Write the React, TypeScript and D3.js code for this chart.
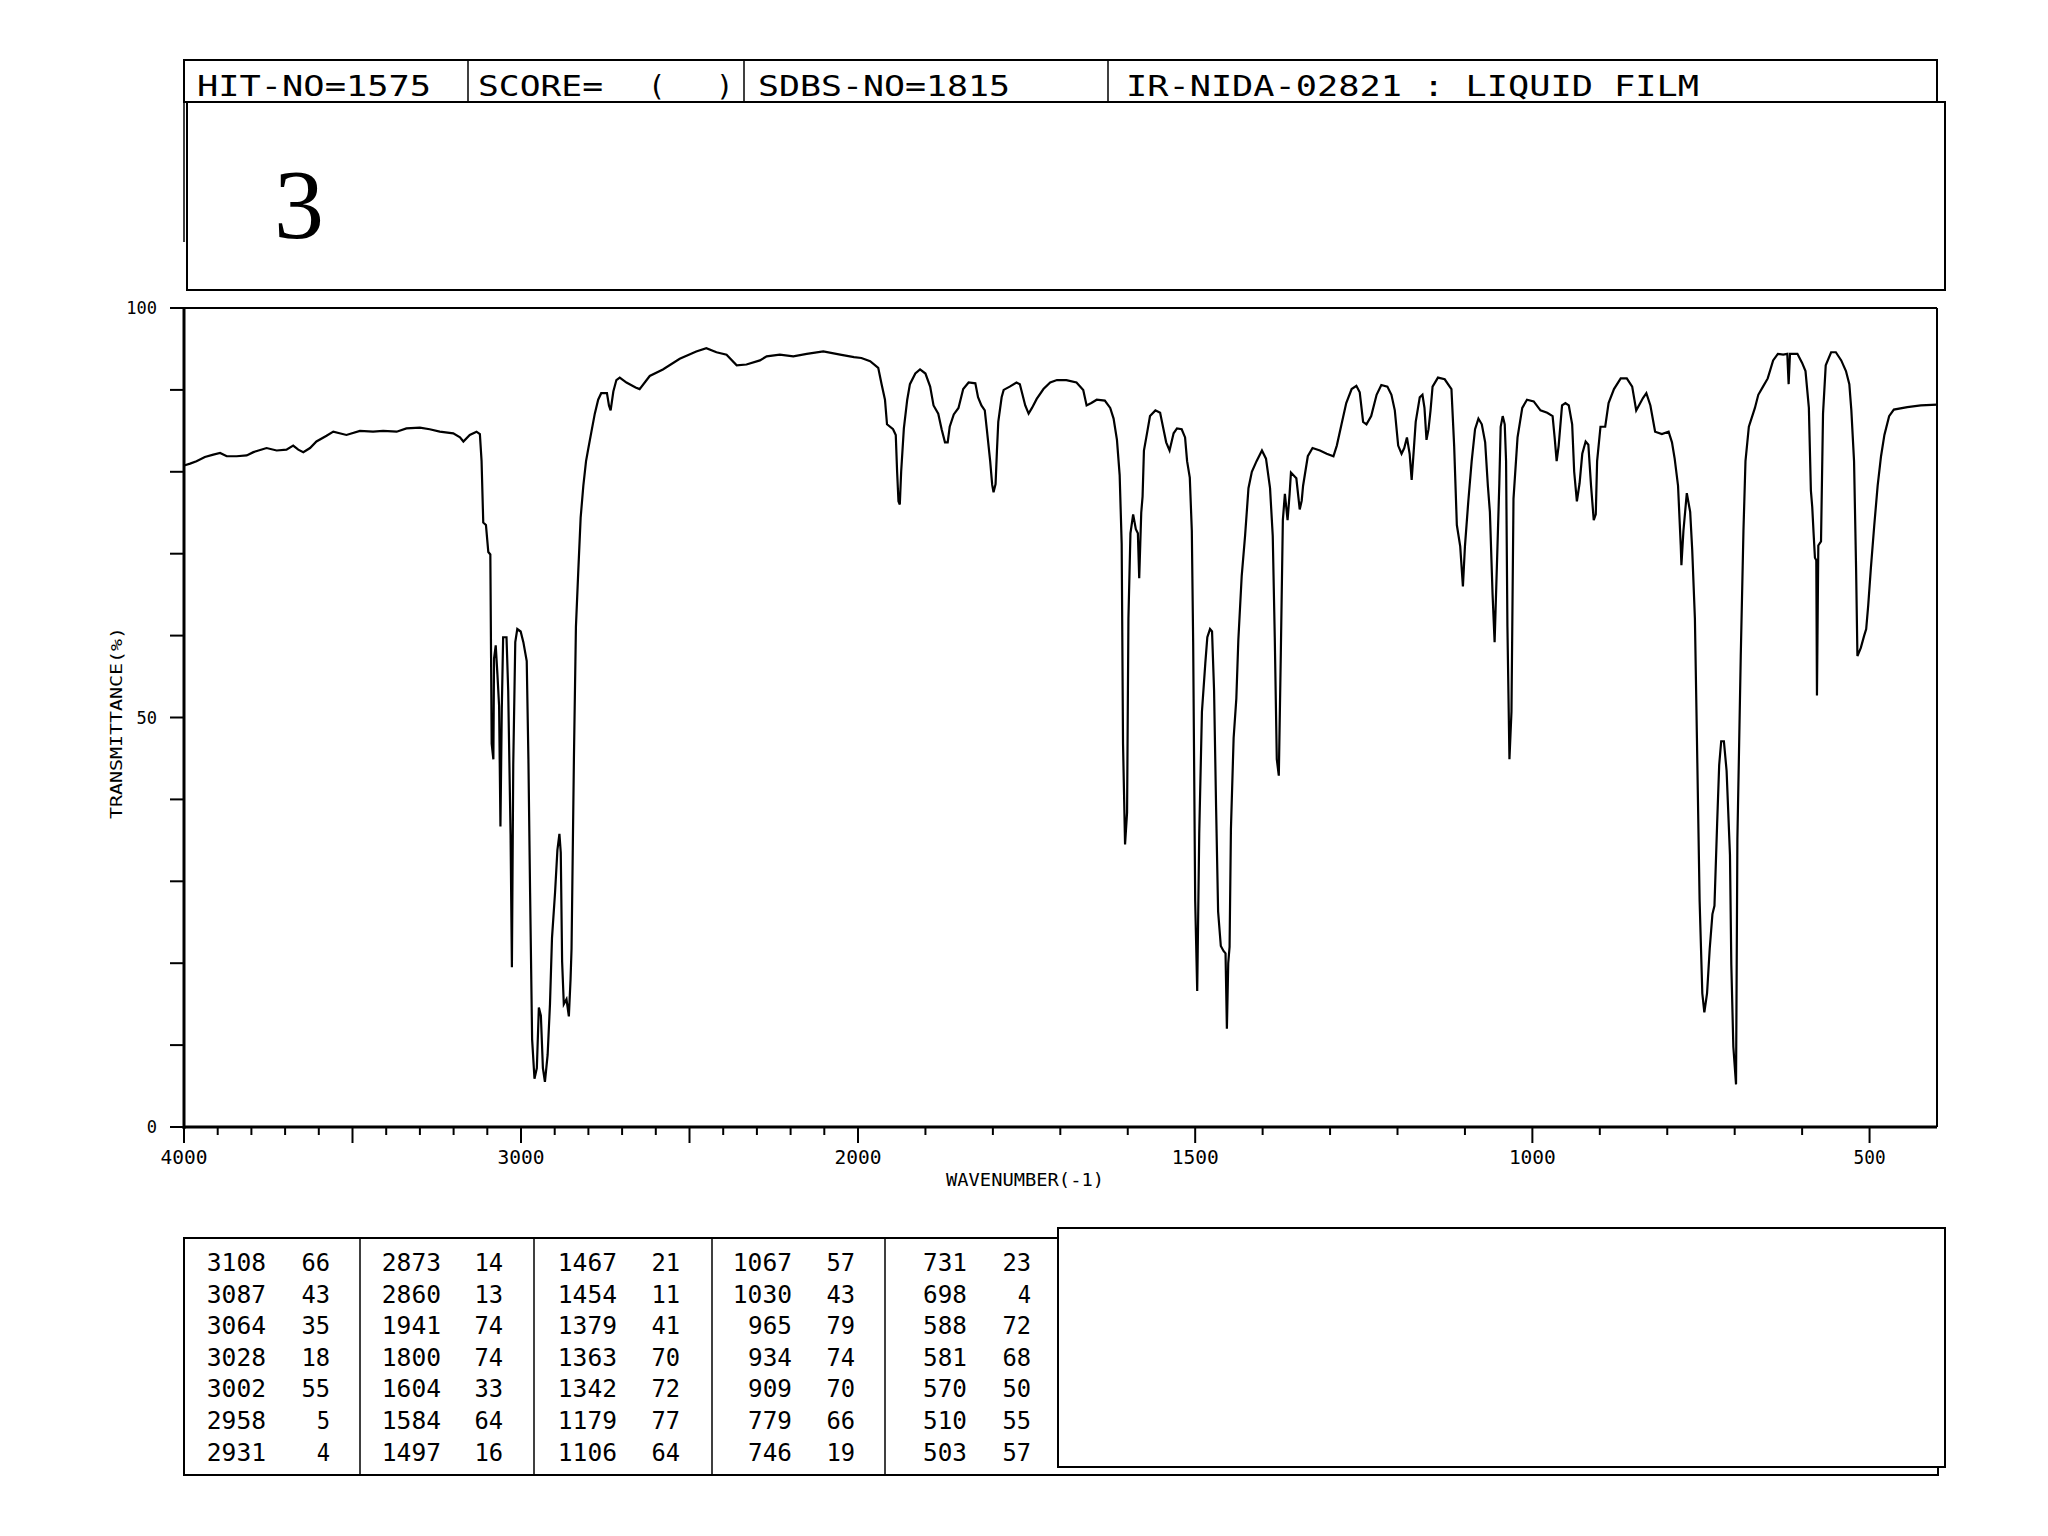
import React from "react";
import * as d3 from "d3";

// ---------- header / meta texts ----------
const headerHit = "HIT-NO=1575";
const headerScore = "SCORE=";
const headerSdbs = "SDBS-NO=1815";
const headerIr = "IR-NIDA-02821 : LIQUID FILM";
const compoundLabel = "3";

// ---------- axis ticks ----------
const yTickLabels = [0, 50, 100];
const xTickLabels = [4000, 3000, 2000, 1500, 1000, 500];
const yTitle = "TRANSMITTANCE(%)";
const xTitle = "WAVENUMBER(-1)";

// ---------- spectrum (wavenumber cm-1, %T) ----------
const spectrumHigh: [number, number][] = [
  [4000, 80.8], [3997, 80.8], [3982, 81.0], [3963, 81.3], [3938, 81.8], [3913, 82.1], [3893, 82.3],
  [3873, 81.9], [3844, 81.9], [3814, 82.0], [3794, 82.4], [3755, 82.9], [3725, 82.6], [3696, 82.7],
  [3676, 83.2], [3661, 82.7], [3646, 82.4], [3626, 82.9], [3607, 83.7], [3577, 84.4], [3557, 84.9],
  [3518, 84.5], [3478, 85.0], [3439, 84.9], [3409, 85.0], [3369, 84.9], [3340, 85.3], [3300, 85.4],
  [3271, 85.2], [3241, 84.9], [3201, 84.7], [3181, 84.2], [3171, 83.7], [3152, 84.5], [3132, 84.9],
  [3122, 84.6], [3117, 81.3], [3112, 73.8], [3104, 73.5], [3097, 70.2], [3091, 69.9], [3087, 46.8],
  [3082, 44.9], [3080, 57.2], [3075, 58.8], [3070, 55.3], [3065, 51.4], [3061, 36.7], [3057, 51.0],
  [3053, 59.8], [3043, 59.8], [3038, 53.3], [3031, 35.8], [3027, 19.5], [3023, 44.2], [3017, 59.2],
  [3011, 60.8], [3001, 60.5], [2993, 59.2], [2983, 56.9], [2978, 44.9], [2973, 28.6], [2967, 10.7],
  [2960, 5.9], [2953, 7.2], [2947, 14.6], [2941, 13.6], [2935, 7.2], [2929, 5.5], [2921, 8.8],
  [2914, 15.0], [2908, 23.1], [2899, 28.6], [2892, 33.8], [2886, 35.8], [2882, 33.5], [2878, 20.2],
  [2873, 15.0], [2865, 15.6], [2858, 13.5], [2853, 18.0], [2850, 21.8], [2846, 35.0], [2843, 44.9],
  [2837, 61.1], [2830, 67.9], [2823, 74.4], [2815, 78.3], [2807, 81.3], [2800, 82.9], [2791, 84.9],
  [2781, 87.1], [2771, 88.8], [2762, 89.6], [2745, 89.6], [2739, 88.1], [2734, 87.5], [2726, 89.8],
  [2717, 91.2], [2707, 91.5], [2687, 90.9], [2660, 90.3], [2648, 90.1], [2618, 91.7], [2579, 92.5],
  [2529, 93.8], [2480, 94.7], [2450, 95.1], [2420, 94.6], [2390, 94.3], [2360, 93.0], [2331, 93.1],
  [2291, 93.6], [2271, 94.1], [2232, 94.3], [2192, 94.1], [2152, 94.4], [2103, 94.7], [2053, 94.3],
  [2012, 94.0],
];

const spectrumMid: [number, number][] = [
  [1995, 93.9], [1982, 93.5], [1970, 92.7], [1965, 90.7], [1960, 88.8], [1957, 85.8], [1948, 85.2],
  [1944, 84.5], [1942, 80.0], [1940, 76.4], [1938, 76.0], [1936, 80.0], [1932, 85.3], [1927, 88.8],
  [1923, 90.7], [1915, 92.0], [1908, 92.5], [1900, 92.0], [1893, 90.4], [1888, 88.1], [1881, 87.1],
  [1876, 85.2], [1871, 83.6], [1867, 83.6], [1864, 85.5], [1858, 87.0], [1851, 87.8], [1844, 90.1],
  [1836, 90.9], [1826, 90.8], [1822, 89.1], [1817, 88.1], [1812, 87.5], [1809, 85.2], [1804, 81.3],
  [1801, 78.4], [1799, 77.5], [1796, 78.5], [1794, 82.5], [1792, 86.1], [1787, 89.1], [1784, 90.0],
  [1775, 90.4], [1765, 90.9], [1760, 90.7], [1752, 88.1], [1747, 87.1], [1742, 87.8], [1735, 88.9],
  [1725, 90.1], [1715, 90.9], [1705, 91.2], [1691, 91.2], [1676, 90.9], [1666, 90.0], [1661, 88.1],
  [1654, 88.4], [1646, 88.8], [1634, 88.7], [1626, 87.8], [1621, 86.5], [1616, 83.9], [1612, 79.6],
  [1609, 71.2], [1607, 46.8], [1604, 34.5], [1601, 38.4], [1599, 62.1], [1596, 72.5], [1592, 74.8],
  [1588, 73.0], [1585, 72.5], [1583, 67.0], [1580, 75.0], [1578, 77.0], [1576, 82.6], [1571, 84.9],
  [1567, 86.8], [1559, 87.5], [1552, 87.2], [1547, 85.2], [1543, 83.6], [1538, 82.6], [1532, 84.7],
  [1527, 85.3], [1520, 85.2], [1515, 84.2], [1512, 81.3], [1508, 79.3], [1505, 72.8], [1503, 59.2],
  [1500, 27.6], [1497, 16.6], [1494, 35.8], [1490, 50.7], [1485, 56.6], [1482, 59.8], [1478, 60.8],
  [1475, 60.5], [1472, 53.3], [1469, 39.0], [1466, 26.3], [1462, 22.1], [1458, 21.5], [1455, 21.2],
  [1453, 12.0], [1451, 20.0], [1449, 22.0], [1447, 36.4], [1443, 47.5], [1439, 52.3], [1436, 59.5],
  [1431, 67.3], [1426, 72.2], [1421, 78.0], [1416, 80.0], [1409, 81.3], [1401, 82.6], [1395, 81.6],
  [1389, 78.0], [1385, 72.2], [1382, 59.8], [1379, 44.9], [1376, 42.9], [1373, 57.9], [1370, 74.1],
  [1367, 77.3], [1363, 74.1], [1360, 77.3], [1358, 79.9], [1350, 79.2], [1345, 75.4], [1342, 76.5],
  [1340, 78.3], [1333, 81.9], [1326, 82.9],
];

const spectrumLow: [number, number][] = [
  [1315, 82.6], [1305, 82.2], [1295, 81.9], [1290, 83.2], [1283, 85.8], [1276, 88.4], [1268, 90.1],
  [1261, 90.5], [1256, 89.7], [1251, 86.1], [1246, 85.8], [1239, 86.8], [1231, 89.4], [1224, 90.6],
  [1215, 90.4], [1209, 89.4], [1204, 87.5], [1199, 83.2], [1194, 82.2], [1190, 82.9], [1186, 84.2],
  [1182, 82.2], [1179, 79.0], [1176, 82.5], [1173, 86.1], [1167, 89.1], [1163, 89.4], [1160, 87.8],
  [1157, 83.9], [1154, 85.2], [1151, 87.5], [1148, 90.4], [1140, 91.5], [1130, 91.3], [1120, 90.1],
  [1116, 83.2], [1112, 73.5], [1107, 70.9], [1103, 66.0], [1100, 70.9], [1095, 76.4], [1090, 81.3],
  [1085, 85.2], [1080, 86.5], [1075, 85.8], [1070, 83.6], [1066, 78.3], [1063, 75.1], [1059, 65.0],
  [1056, 59.2], [1052, 70.2], [1049, 78.6], [1047, 85.5], [1044, 86.8], [1041, 85.8], [1039, 81.3],
  [1037, 61.1], [1034, 44.9], [1031, 50.7], [1028, 76.7], [1022, 84.2], [1015, 87.8], [1008, 88.8],
  [998, 88.6], [988, 87.5], [978, 87.2], [970, 86.8], [967, 84.2], [964, 81.3], [961, 83.2],
  [956, 88.1], [951, 88.4], [946, 88.1], [941, 85.8], [938, 80.0], [934, 76.4], [930, 78.6],
  [926, 82.2], [921, 83.7], [917, 83.3], [913, 78.3], [909, 74.1], [906, 74.8], [904, 81.3],
  [899, 85.5], [892, 85.5], [887, 88.4], [879, 90.1], [869, 91.4], [860, 91.4], [852, 90.4],
  [846, 87.5], [842, 88.1], [836, 89.0], [831, 89.6], [825, 88.1], [818, 84.9], [808, 84.6],
  [798, 84.9], [793, 83.6], [789, 81.6], [784, 78.3], [780, 71.0], [779, 68.6], [776, 72.8],
  [771, 77.4], [766, 75.1], [763, 70.5], [759, 62.1], [756, 47.5], [752, 27.6], [748, 16.3],
  [745, 14.0], [741, 16.3], [737, 21.8], [733, 26.0], [730, 27.0], [726, 37.1], [723, 44.2],
  [720, 47.1], [716, 47.1], [712, 43.5], [707, 33.2], [705, 19.8], [702, 9.8], [698, 5.2],
  [696, 35.1], [691, 57.5], [687, 72.8], [684, 81.3], [679, 85.5], [670, 87.8], [665, 89.4],
  [658, 90.4], [651, 91.4], [643, 93.6], [636, 94.4], [628, 94.3], [622, 94.4], [620, 90.7],
  [618, 94.4], [607, 94.4], [600, 93.3], [595, 92.3], [590, 87.8], [587, 77.7], [585, 75.7],
  [583, 72.5], [581, 69.5], [579, 69.2], [578, 52.7], [576, 71.0], [572, 71.5], [569, 87.1],
  [565, 93.0], [557, 94.6], [550, 94.6], [542, 93.6], [535, 92.3], [530, 90.7], [527, 87.5],
  [523, 81.3], [520, 68.3], [518, 57.5], [513, 58.5], [508, 60.0], [505, 60.8], [502, 63.7],
  [498, 68.3], [493, 73.5], [488, 78.3], [483, 81.9], [478, 84.5], [471, 86.8], [464, 87.6],
  [444, 87.9], [424, 88.1], [400, 88.2],
];

// ---------- peak table ----------
const peakWavenumbers = [
  3108, 3087, 3064, 3028, 3002, 2958, 2931,
  2873, 2860, 1941, 1800, 1604, 1584, 1497,
  1467, 1454, 1379, 1363, 1342, 1179, 1106,
  1067, 1030, 965, 934, 909, 779, 746,
  731, 698, 588, 581, 570, 510, 503,
];
const peakTransmittance = [
  66, 43, 35, 18, 55, 5, 4,
  14, 13, 74, 74, 33, 64, 16,
  21, 11, 41, 70, 72, 77, 64,
  57, 43, 79, 74, 70, 66, 19,
  23, 4, 72, 68, 50, 55, 57,
];

const MONO = "'DejaVu Sans Mono', monospace";

export default function App() {
  const left = 184, right = 1937, top = 308, bottom = 1127;
  const x = d3.scaleLinear().domain([4000, 2000, 400]).range([left, 858, right]);
  const y = d3.scaleLinear().domain([0, 100]).range([bottom, top]);

  const data = [...spectrumHigh, ...spectrumMid, ...spectrumLow];
  const line = d3
    .line<[number, number]>()
    .x((d) => x(d[0]))
    .y((d) => y(d[1]))
    .curve(d3.curveLinear);

  const xTicks = d3.range(4000, 499, -100);
  const yTicks = d3.range(0, 101, 10);

  const colWnRight = [268, 443, 619, 794, 969];
  const colTRight = [332, 505, 682, 857, 1033];
  const charW = 15.3;
  const rowY0 = 1271, rowStep = 31.6;

  const txt = (s: string, xr: number, yb: number, key: string) => (
    <text
      key={key}
      x={xr - s.length * charW}
      y={yb}
      fontFamily={MONO}
      fontSize={24}
      textLength={s.length * charW - 2}
      lengthAdjust="spacingAndGlyphs"
    >
      {s}
    </text>
  );

  return (
    <svg
      width={2048}
      height={1536}
      style={{ position: "absolute", left: 0, top: 0, display: "block", background: "#fff" }}
    >
      <rect x={0} y={0} width={2048} height={1536} fill="#fff" />

      {/* header bar */}
      <rect x={184} y={60} width={1753} height={42} fill="none" stroke="#000" strokeWidth={2} />
      {[468, 744, 1108].map((dx) => (
        <line key={dx} x1={dx} x2={dx} y1={60} y2={102} stroke="#000" strokeWidth={1.5} />
      ))}
      <g fontFamily={MONO} fontSize={29}>
        <text x={197} y={96} textLength={234} lengthAdjust="spacingAndGlyphs">{headerHit}</text>
        <text x={478} y={96} textLength={125} lengthAdjust="spacingAndGlyphs">{headerScore}</text>
        <text x={648} y={96}>(</text>
        <text x={716} y={96}>)</text>
        <text x={758} y={96} textLength={252} lengthAdjust="spacingAndGlyphs">{headerSdbs}</text>
        <text x={1126} y={96} textLength={573} lengthAdjust="spacingAndGlyphs">{headerIr}</text>
      </g>

      {/* structure box */}
      <rect x={187} y={102} width={1758} height={188} fill="none" stroke="#000" strokeWidth={2} />
      <line x1={184} x2={184} y1={102} y2={242} stroke="#000" strokeWidth={1.5} />
      <text x={274} y={238} fontFamily="'Liberation Serif', 'Times New Roman', serif" fontSize={100}>
        {compoundLabel}
      </text>

      {/* plot frame */}
      <line x1={left} x2={right} y1={top} y2={top} stroke="#000" strokeWidth={2} />
      <line x1={right} x2={right} y1={top} y2={bottom} stroke="#000" strokeWidth={2} />
      <line x1={left} x2={left} y1={top} y2={bottom + 2} stroke="#000" strokeWidth={3} />
      <line x1={left - 1} x2={right} y1={bottom} y2={bottom} stroke="#000" strokeWidth={3} />

      {/* y ticks */}
      {yTicks.map((t) => (
        <line key={t} x1={170} x2={left} y1={y(t)} y2={y(t)} stroke="#000" strokeWidth={2} />
      ))}
      {yTickLabels.map((t) => (
        <text
          key={t}
          x={157}
          y={y(t) + 6}
          textAnchor="end"
          fontFamily={MONO}
          fontSize={17}
        >
          {String(t)}
        </text>
      ))}
      <text
        transform={`translate(122, 723) rotate(-90)`}
        textAnchor="middle"
        fontFamily={MONO}
        fontSize={16}
        textLength={192}
        lengthAdjust="spacingAndGlyphs"
      >
        {yTitle}
      </text>

      {/* x ticks */}
      {xTicks.map((t) => (
        <line
          key={t}
          x1={x(t)}
          x2={x(t)}
          y1={bottom}
          y2={bottom + (t % 500 === 0 ? 16 : 8)}
          stroke="#000"
          strokeWidth={2}
        />
      ))}
      {xTickLabels.map((t) => {
        const s = String(t);
        const w = s.length === 4 ? 47 : 32;
        return (
          <text
            key={t}
            x={x(t)}
            y={1164}
            textAnchor="middle"
            fontFamily={MONO}
            fontSize={19}
            textLength={w}
            lengthAdjust="spacingAndGlyphs"
          >
            {s}
          </text>
        );
      })}
      <text
        x={1025}
        y={1186}
        textAnchor="middle"
        fontFamily={MONO}
        fontSize={17}
        textLength={158}
        lengthAdjust="spacingAndGlyphs"
      >
        {xTitle}
      </text>

      {/* spectrum */}
      <path d={line(data) || ""} fill="none" stroke="#000" strokeWidth={2.2} strokeLinejoin="miter" />

      {/* peak table */}
      <rect x={184} y={1238} width={1754} height={237} fill="none" stroke="#000" strokeWidth={2} />
      {[360, 534, 712, 885].map((dx) => (
        <line key={dx} x1={dx} x2={dx} y1={1238} y2={1475} stroke="#000" strokeWidth={1.5} />
      ))}
      {peakWavenumbers.map((wn, i) => {
        const col = Math.floor(i / 7);
        const row = i % 7;
        const yb = rowY0 + row * rowStep;
        return (
          <g key={i}>
            {txt(String(wn), colWnRight[col], yb, "w" + i)}
            {txt(String(peakTransmittance[i]), colTRight[col], yb, "t" + i)}
          </g>
        );
      })}
      <rect x={1058} y={1228} width={887} height={239} fill="#fff" stroke="#000" strokeWidth={2} />
    </svg>
  );
}
